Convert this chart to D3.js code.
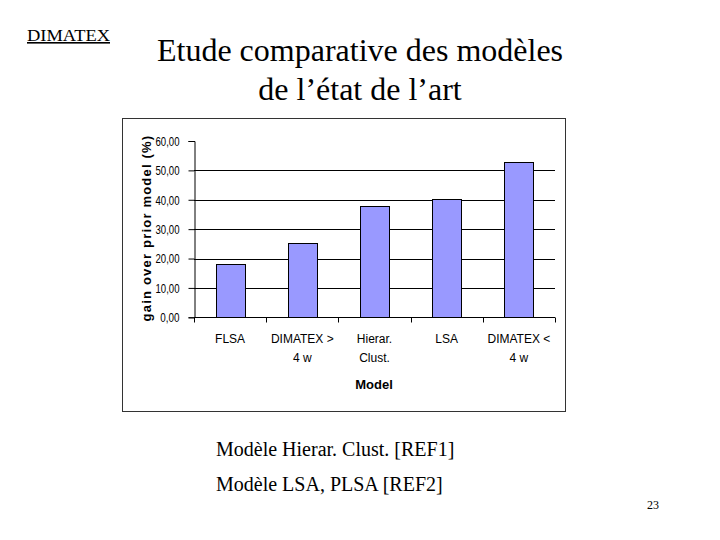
<!DOCTYPE html>
<html><head><meta charset="utf-8">
<script src="https://cdn.jsdelivr.net/npm/d3@7"></script>
<style>body{margin:0;background:#fff}svg{display:block}</style>
</head><body>
<svg id="c" width="720" height="540"></svg>
<script>
const categories = [["FLSA"], ["DIMATEX >", "4 w"], ["Hierar.", "Clust."], ["LSA"], ["DIMATEX <", "4 w"]];
const values = [18.0, 25.4, 37.8, 40.1, 52.8];
const yTicks = [0, 10, 20, 30, 40, 50, 60];
const yTickLabels = ["0,00", "10,00", "20,00", "30,00", "40,00", "50,00", "60,00"];
const titleLines = ["Etude comparative des modèles", "de l’état de l’art"];
const notes = ["Modèle Hierar. Clust. [REF1]", "Modèle LSA, PLSA [REF2]"];

const svg = d3.select("#c");
const serif = "'Liberation Serif','Times New Roman',serif";
const sans = "'Liberation Sans',Arial,sans-serif";

// header
svg.append("text").attr("x", 27).attr("y", 41).attr("font-family", serif).attr("font-size", 16)
  .attr("text-decoration", "underline").attr("textLength", 83).attr("lengthAdjust", "spacingAndGlyphs").text("DIMATEX");
svg.selectAll("text.title").data(titleLines).join("text").attr("class", "title")
  .attr("x", 360).attr("y", (d, i) => 61 + i * 39).attr("text-anchor", "middle")
  .attr("font-family", serif).attr("font-size", 32).text(d => d);

// frame
svg.append("rect").attr("x", 122.5).attr("y", 118.5).attr("width", 443).attr("height", 293)
  .attr("fill", "#fff").attr("stroke", "#333").attr("stroke-width", 1);

const x = d3.scaleBand().domain(d3.range(categories.length)).range([194, 555]).paddingInner(0).paddingOuter(0);
const y = d3.scaleLinear().domain([0, 60]).range([317.3, 141]);

// gridlines
svg.append("g").selectAll("line").data(yTicks.filter(t => t > 0 && t < 60)).join("line")
  .attr("x1", 194).attr("x2", 555).attr("y1", d => Math.round(y(d)) + 0.5).attr("y2", d => Math.round(y(d)) + 0.5)
  .attr("stroke", "#000").attr("stroke-width", 1);

// bars
const bw = 29;
svg.append("g").selectAll("rect").data(values).join("rect")
  .attr("x", (d, i) => Math.round(x(i) + x.bandwidth() / 2 - bw / 2) + 0.5)
  .attr("y", d => Math.round(y(d)) + 0.5)
  .attr("width", bw).attr("height", d => Math.round(y(0)) - Math.round(y(d)))
  .attr("fill", "#9999ff").attr("stroke", "#000").attr("stroke-width", 1);

// y axis
const yAxis = d3.axisLeft(y).tickValues(yTicks).tickFormat((d, i) => yTickLabels[i]).tickSize(6).tickPadding(9);
const gy = svg.append("g").attr("transform", "translate(194.5,0)").call(yAxis);
gy.select(".domain").attr("stroke", "#000");
gy.selectAll(".tick line").attr("stroke", "#000");
gy.selectAll("text").attr("font-family", sans).attr("font-size", 13.5).attr("fill", "#000")
  .attr("textLength", (d, i) => yTickLabels[i].length * 4.8).attr("lengthAdjust", "spacingAndGlyphs");

// x axis
const xb = d3.scaleLinear().domain([0, categories.length]).range([194, 555]);
const gx = svg.append("g").attr("transform", `translate(0,${Math.round(y(0)) + 0.5})`);
gx.append("line").attr("x1", 194).attr("x2", 555).attr("stroke", "#000");
gx.selectAll("line.t").data(d3.range(categories.length + 1)).join("line").attr("class", "t")
  .attr("x1", d => Math.round(xb(d)) + 0.5).attr("x2", d => Math.round(xb(d)) + 0.5)
  .attr("y1", 0).attr("y2", 5).attr("stroke", "#000");
const lbl = svg.append("g").selectAll("text").data(categories).join("text")
  .attr("font-family", sans).attr("font-size", 12).attr("fill", "#000").attr("text-anchor", "middle");
lbl.each(function (d, i) {
  d3.select(this).selectAll("tspan").data(d).join("tspan")
    .attr("x", x(i) + x.bandwidth() / 2).attr("y", (t, j) => 343 + j * 19).text(t => t);
});

// axis titles
svg.append("text").attr("x", 374).attr("y", 389).attr("text-anchor", "middle")
  .attr("font-family", sans).attr("font-weight", "bold").attr("font-size", 13).text("Model");
svg.append("text").attr("transform", "translate(151,228) rotate(-90)").attr("text-anchor", "middle")
  .attr("font-family", sans).attr("font-weight", "bold").attr("font-size", 13)
  .attr("letter-spacing", 1.2).text("gain over prior model (%)");

// notes
svg.selectAll("text.note").data(notes).join("text").attr("class", "note")
  .attr("x", 216).attr("y", (d, i) => 456 + i * 35).attr("font-family", serif).attr("font-size", 20).text(d => d);
svg.append("text").attr("x", 659).attr("y", 509).attr("text-anchor", "end")
  .attr("font-family", serif).attr("font-size", 12).text("23");
</script>
</body></html>
